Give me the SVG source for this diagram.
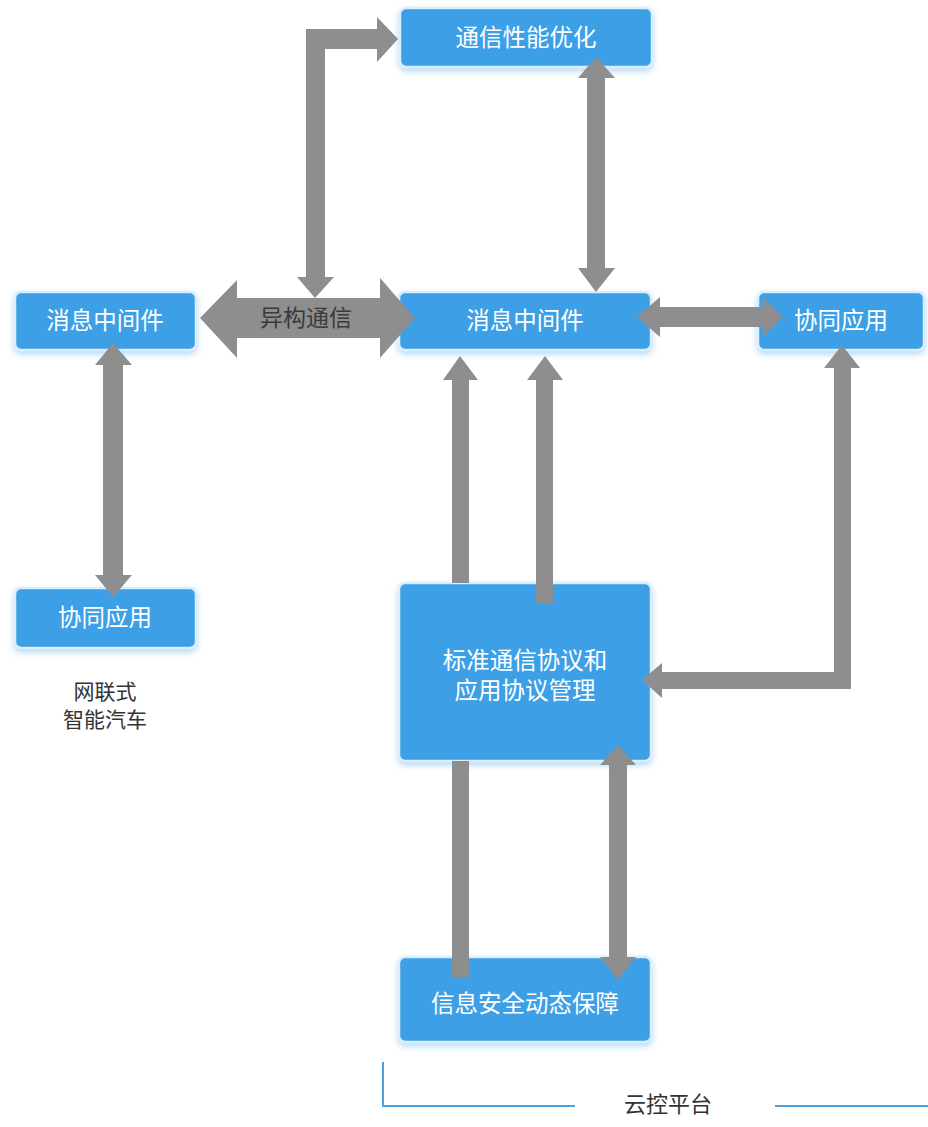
<svg xmlns="http://www.w3.org/2000/svg" width="928" height="1127" viewBox="0 0 928 1127">
<style>
.box{fill:#3d9fe6;stroke:#dceefb;stroke-width:2.5;filter:url(#sh)}
.bt{fill:#ffffff;font-family:"Liberation Sans","Noto Sans CJK SC",sans-serif;font-size:23.5px;text-anchor:middle;dominant-baseline:central}
.lbl{fill:#333333;font-family:"Liberation Sans","Noto Sans CJK SC",sans-serif;font-size:21px;text-anchor:middle;dominant-baseline:central}
.arr{fill:#8e8e8e}
.bl{stroke:#4aa3e0;stroke-width:2;fill:none}
</style>
<defs>
<filter id="sh" x="-10%" y="-20%" width="120%" height="150%">
<feDropShadow dx="0" dy="3" stdDeviation="3" flood-color="#7fc0ef" flood-opacity="0.6"/>
</filter>
</defs>
<rect width="928" height="1127" fill="#ffffff"/>

<g id="n-perf">
<rect class="box" x="400" y="8" width="252" height="59" rx="6"/>
<text class="bt" x="526" y="38">通信性能优化</text>
</g>
<g id="n-mw-left">
<rect class="box" x="15" y="292" width="181" height="58" rx="6"/>
<text class="bt" x="105" y="321">消息中间件</text>
</g>
<g id="n-mw-center">
<rect class="box" x="399" y="292" width="252" height="58" rx="6"/>
<text class="bt" x="525" y="321">消息中间件</text>
</g>
<g id="n-app-right">
<rect class="box" x="758" y="292" width="166" height="58" rx="6"/>
<text class="bt" x="841" y="321">协同应用</text>
</g>
<g id="n-app-left">
<rect class="box" x="15" y="588" width="181" height="60" rx="6"/>
<text class="bt" x="105" y="618">协同应用</text>
</g>
<g id="n-proto">
<rect class="box" x="399" y="583" width="252" height="178" rx="6"/>
<text class="bt" x="525" y="661">标准通信协议和</text>
<text class="bt" x="525" y="691">应用协议管理</text>
</g>
<g id="n-sec">
<rect class="box" x="399" y="957" width="252" height="85" rx="6"/>
<text class="bt" x="525" y="1004">信息安全动态保障</text>
</g>
<g id="n-car">
<text class="lbl" x="105" y="691">网联式</text>
<text class="lbl" x="105" y="719">智能汽车</text>
</g>
<g id="n-cloud">
<path class="bl" d="M383 1062 V1106 H575"/>
<path class="bl" d="M775 1106 H928"/>
<text class="lbl" x="668" y="1104" style="font-size:22px">云控平台</text>
</g>

<g id="connectors">
<polygon class="arr" points="398,39 377,17 377,29 306,29 306,277 297,277 315,298 334,277 325,277 325,49 377,49 377,62"/>
<polygon class="arr" points="200,318 237,280 237,298 380,298 380,278 415,318 380,358 380,338 237,338 237,358"/>
<text class="lbl" x="306" y="318" style="fill:#3a3a3a;font-size:23px">异构通信</text>
<polygon class="arr" points="596,57 615,78 605,78 605,268 615,268 596,292 578,268 587,268 587,78 578,78"/>
<polygon class="arr" points="637,317 660,297 660,307 763,307 763,297 783,317 763,337 763,327 660,327 660,337"/>
<polygon class="arr" points="113,343 132,365 123,365 123,575 132,575 113,597 95,575 103,575 103,365 95,365"/>
<polygon class="arr" points="460,356 478,380 469,380 469,583 452,583 452,380 443,380"/>
<polygon class="arr" points="545,356 563,380 553,380 553,604 536,604 536,380 527,380"/>
<polygon class="arr" points="842,345 860,368 851,368 851,689 662,689 662,698 642,680 662,663 662,672 834,672 834,368 824,368"/>
<rect class="arr" x="452" y="761" width="17" height="216"/>
<polygon class="arr" points="618,745 636,765 627,765 627,957 636,957 618,980 600,957 609,957 609,765 600,765"/>
</g>
</svg>
